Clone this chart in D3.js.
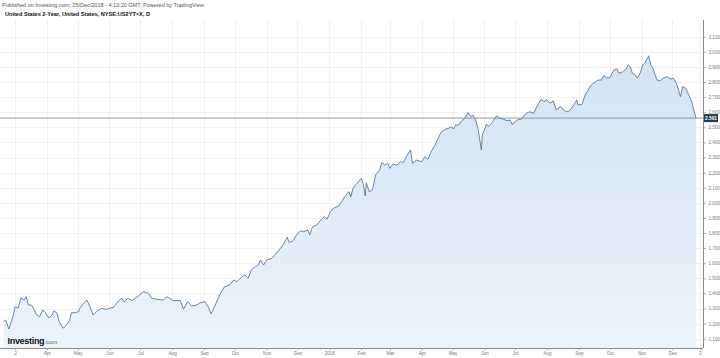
<!DOCTYPE html>
<html><head><meta charset="utf-8">
<script src="https://cdn.jsdelivr.net/npm/d3@7"></script>
<style>html,body{margin:0;padding:0;background:#fff;}svg{display:block;font-family:"Liberation Sans",Arial,sans-serif;}</style>
</head><body>
<svg id="c" width="720" height="358"></svg>
<script>
const titleLine1 = "Published on Investing.com, 25/Dec/2018 - 4:13:20 GMT, Powered by TradingView.";
const titleLine2 = "United States 2-Year, United States, NYSE:US2YT=X, D";
const lastLabel = "2.561";

const dates = [
"2017-02-18","2017-02-20","2017-02-23","2017-02-27","2017-03-01","2017-03-04","2017-03-07","2017-03-10","2017-03-12","2017-03-14",
"2017-03-17","2017-03-19","2017-03-22","2017-03-25","2017-03-28","2017-03-30","2017-04-01","2017-04-03","2017-04-06","2017-04-08",
"2017-04-11","2017-04-13","2017-04-17","2017-04-20","2017-04-23","2017-04-25","2017-04-28","2017-05-02","2017-05-03","2017-05-06",
"2017-05-10","2017-05-13","2017-05-16","2017-05-20","2017-05-24","2017-05-29","2017-06-05","2017-06-10","2017-06-13","2017-06-15",
"2017-06-19","2017-06-23","2017-06-26","2017-06-29","2017-07-04","2017-07-09","2017-07-12","2017-07-17","2017-07-23","2017-07-27",
"2017-08-02","2017-08-09","2017-08-12","2017-08-16","2017-08-20","2017-08-25","2017-08-28","2017-09-02","2017-09-05","2017-09-08",
"2017-09-12","2017-09-17","2017-09-21","2017-09-26","2017-09-30","2017-10-03","2017-10-08","2017-10-11","2017-10-14","2017-10-17",
"2017-10-21","2017-10-24","2017-10-26","2017-10-29","2017-11-01","2017-11-06","2017-11-09","2017-11-13","2017-11-17","2017-11-21",
"2017-11-23","2017-11-27","2017-11-30","2017-12-04","2017-12-07","2017-12-11","2017-12-13","2017-12-15","2017-12-16","2017-12-20",
"2017-12-23","2017-12-27","2017-12-30","2018-01-02","2018-01-05","2018-01-10","2018-01-13","2018-01-16","2018-01-20","2018-01-22",
"2018-01-24","2018-01-28","2018-02-01","2018-02-03","2018-02-05","2018-02-06","2018-02-09","2018-02-12","2018-02-15","2018-02-19",
"2018-02-21","2018-02-24","2018-02-27","2018-03-01","2018-03-04","2018-03-08","2018-03-11","2018-03-14","2018-03-17","2018-03-21",
"2018-03-23","2018-03-27","2018-04-01","2018-04-04","2018-04-07","2018-04-11","2018-04-14","2018-04-17","2018-04-20","2018-04-24",
"2018-04-27","2018-04-30","2018-05-02","2018-05-04","2018-05-07","2018-05-10","2018-05-13","2018-05-16","2018-05-19","2018-05-21",
"2018-05-24","2018-05-26","2018-05-29","2018-05-30","2018-06-01","2018-06-03","2018-06-05","2018-06-08","2018-06-10","2018-06-13",
"2018-06-16","2018-06-19","2018-06-23","2018-06-26","2018-06-28","2018-07-01","2018-07-04","2018-07-07","2018-07-10","2018-07-12",
"2018-07-15","2018-07-19","2018-07-22","2018-07-26","2018-07-29","2018-08-01","2018-08-04","2018-08-07","2018-08-10","2018-08-14",
"2018-08-17","2018-08-20","2018-08-23","2018-08-27","2018-08-30","2018-08-31","2018-09-04","2018-09-07","2018-09-10","2018-09-13",
"2018-09-17","2018-09-20","2018-09-23","2018-09-25","2018-09-28","2018-10-01","2018-10-05","2018-10-08","2018-10-10","2018-10-14",
"2018-10-17","2018-10-19","2018-10-21","2018-10-23","2018-10-26","2018-10-28","2018-10-31","2018-11-02","2018-11-04","2018-11-08",
"2018-11-10","2018-11-12","2018-11-16","2018-11-19","2018-11-22","2018-11-26","2018-11-29","2018-12-02","2018-12-05","2018-12-09",
"2018-12-11","2018-12-14","2018-12-17","2018-12-20","2018-12-21","2018-12-24"];

const values = [
1.213,1.224,1.164,1.246,1.310,1.303,1.370,1.356,1.378,1.323,
1.323,1.301,1.257,1.246,1.290,1.279,1.257,1.237,1.257,1.285,
1.268,1.213,1.169,1.191,1.219,1.272,1.272,1.279,1.301,1.330,
1.356,1.312,1.257,1.283,1.301,1.295,1.308,1.352,1.368,1.345,
1.368,1.352,1.368,1.383,1.411,1.401,1.368,1.361,1.356,1.378,
1.352,1.352,1.295,1.345,1.317,1.323,1.338,1.345,1.312,1.264,
1.323,1.401,1.444,1.456,1.489,1.477,1.511,1.522,1.500,1.555,
1.577,1.588,1.621,1.588,1.621,1.632,1.654,1.687,1.721,1.772,
1.736,1.749,1.787,1.815,1.809,1.820,1.787,1.831,1.842,1.853,
1.881,1.908,1.893,1.941,1.964,1.979,2.007,2.040,2.074,2.040,
2.096,2.129,2.162,2.129,2.045,2.133,2.074,2.085,2.184,2.217,
2.266,2.250,2.262,2.228,2.257,2.250,2.272,2.266,2.305,2.350,
2.262,2.283,2.272,2.305,2.288,2.350,2.383,2.427,2.471,2.487,
2.493,2.504,2.489,2.515,2.515,2.544,2.560,2.597,2.570,2.581,
2.537,2.482,2.350,2.449,2.482,2.522,2.504,2.527,2.548,2.575,
2.560,2.555,2.544,2.548,2.519,2.537,2.553,2.553,2.581,2.593,
2.603,2.593,2.636,2.685,2.670,2.681,2.659,2.676,2.615,2.637,
2.615,2.603,2.610,2.648,2.682,2.648,2.652,2.714,2.747,2.780,
2.802,2.813,2.813,2.842,2.828,2.828,2.879,2.886,2.858,2.868,
2.886,2.913,2.901,2.858,2.846,2.825,2.864,2.913,2.924,2.974,
2.913,2.891,2.813,2.807,2.825,2.836,2.820,2.825,2.791,2.703,
2.769,2.758,2.714,2.669,2.636,2.561];

const xTickDates = ["2017-03-01","2017-04-01","2017-05-01","2017-06-01","2017-07-01","2017-08-01","2017-09-01","2017-10-01","2017-11-01","2017-12-01",
"2018-01-01","2018-02-01","2018-03-01","2018-04-01","2018-05-01","2018-06-01","2018-07-01","2018-08-01","2018-09-01","2018-10-01","2018-11-01","2018-12-01","2018-12-28"];
const xTickLabels = ["2","Apr","May","Jun","Jul","Aug","Sep","Oct","Nov","Dec","2018","Feb","Mar","Apr","May","Jun","Jul","Aug","Sep","Oct","Nov","Dec","2"];
const yTicks = [1.1,1.2,1.3,1.4,1.5,1.6,1.7,1.8,1.9,2.0,2.1,2.2,2.3,2.4,2.5,2.6,2.7,2.8,2.9,3.0,3.1];

const parse = d3.timeParse("%Y-%m-%d");
const data = dates.map((d,i)=>({d:parse(d), v:values[i]}));

const plotL = 0, plotR = 703, plotT = 20, plotB = 348;
const x = d3.scaleTime().domain([parse("2017-01-01"), parse("2019-01-01")]).range([-45.6, 704.2]);
const y = d3.scaleLinear().domain([1.1, 3.1]).range([338.7, 36.7]);

const svg = d3.select("#c");
const defs = svg.append("defs");
const g = defs.append("linearGradient").attr("id","fillg").attr("x1",0).attr("y1",0).attr("x2",0).attr("y2",1);
g.append("stop").attr("offset","0%").attr("stop-color","#d3e3f3");
g.append("stop").attr("offset","100%").attr("stop-color","#ebf4fd");
defs.append("clipPath").attr("id","clip").append("rect").attr("x",plotL).attr("y",plotT).attr("width",plotR-plotL).attr("height",plotB-plotT);

// grid
const grid = svg.append("g").attr("stroke","#f1f1f1").attr("stroke-width",1).attr("shape-rendering","crispEdges");
xTickDates.forEach(t=>{ const px = Math.round(x(parse(t)))+0.5;
  grid.append("line").attr("x1",px).attr("x2",px).attr("y1",plotT).attr("y2",plotB); });
yTicks.forEach(t=>{ const py = Math.round(y(t))+0.5;
  grid.append("line").attr("x1",plotL).attr("x2",plotR).attr("y1",py).attr("y2",py); });

const plot = svg.append("g").attr("clip-path","url(#clip)");
plot.append("path").datum(data)
  .attr("fill","url(#fillg)")
  .attr("d", d3.area().x(d=>x(d.d)).y0(plotB).y1(d=>y(d.v)));
plot.append("path").datum(data)
  .attr("fill","none").attr("stroke","#58799c").attr("stroke-width",0.9).attr("stroke-linejoin","round")
  .attr("d", d3.line().x(d=>x(d.d)).y(d=>y(d.v)));

// last price line
const lastY = y(values[values.length-1]);
svg.append("line").attr("x1",plotL).attr("x2",plotR).attr("y1",lastY).attr("y2",lastY)
  .attr("stroke","#7b8fa3").attr("stroke-width",0.9);

// axes
const xAxis = d3.axisBottom(x).tickValues(xTickDates.map(parse)).tickFormat((d,i)=>xTickLabels[i]).tickSize(2).tickPadding(1.5);
const xa = svg.append("g").attr("transform",`translate(0,${plotB})`).call(xAxis);
xa.select(".domain").attr("stroke","#8a8a8a").attr("d",`M${plotL},0.5H${plotR}`);
xa.selectAll(".tick line").attr("stroke","#999");
xa.selectAll("text").attr("fill","#777").style("font-size","4.6px").style("font-family","Liberation Sans, Arial, sans-serif");

const yAxis = d3.axisRight(y).tickValues(yTicks).tickFormat(d3.format(".3f")).tickSize(2.5).tickPadding(3);
const ya = svg.append("g").attr("transform",`translate(${plotR},0)`).call(yAxis);
ya.select(".domain").attr("stroke","#8a8a8a").attr("d",`M0.5,${plotT}V${plotB}`);
ya.selectAll(".tick line").attr("stroke","#999");
ya.selectAll("text").attr("fill","#777").style("font-size","4.6px").style("font-family","Liberation Sans, Arial, sans-serif");

// last value label
svg.append("rect").attr("x",plotR+1).attr("y",lastY-4).attr("width",14).attr("height",8).attr("fill","#1f3b5c");
svg.append("text").attr("x",plotR+8).attr("y",lastY+1.7).attr("text-anchor","middle").attr("fill","#fff")
  .style("font-size","4.8px").style("font-weight","bold").text(lastLabel);

// titles
svg.append("text").attr("x",2).attr("y",7).attr("fill","#555").style("font-size","5.5px")
  .attr("textLength",203).attr("lengthAdjust","spacingAndGlyphs").text(titleLine1);
svg.append("text").attr("x",5).attr("y",16).attr("fill","#111").style("font-size","5.5px").style("font-weight","bold")
  .attr("textLength",145).attr("lengthAdjust","spacingAndGlyphs").text(titleLine2);

// logo
const logo = svg.append("text").attr("x",7.5).attr("y",343.5);
logo.append("tspan").attr("fill","#111").style("font-size","9px").style("font-weight","bold").style("letter-spacing","-0.3px").text("Investing");
logo.append("tspan").attr("fill","#666").style("font-size","6px").text(".com");
</script>
</body></html>
